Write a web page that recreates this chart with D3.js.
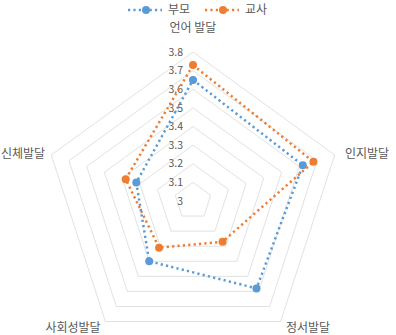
<!DOCTYPE html>
<html>
<head>
<meta charset="utf-8">
<script src="https://cdn.jsdelivr.net/npm/d3@7"></script>
<style>
  body { margin: 0; background: #fff; }
  text { font-family: "Noto Sans CJK KR", "Noto Sans", sans-serif; fill: #595959; }
</style>
</head>
<body>
<svg id="chart" width="396" height="335"></svg>
<script>
// categories clockwise from the top
const categories = ["언어 발달", "인지발달", "정서발달", "사회성발달", "신체발달"];
const parentValues = [3.65, 3.62, 3.58, 3.40, 3.32];   // 부모
const teacherValues = [3.73, 3.68, 3.27, 3.31, 3.38];  // 교사
const tickValues = [3, 3.1, 3.2, 3.3, 3.4, 3.5, 3.6, 3.7, 3.8];
const seriesNames = ["부모", "교사"];
const colors = ["#5B9BD5", "#ED7D31"];

const svg = d3.select("#chart");
const cx = 193, cy = 201, R = 149;

const r = d3.scaleLinear().domain([3, 3.8]).range([0, R]);
const angle = d3.scalePoint().domain(d3.range(categories.length + 1)).range([0, 2 * Math.PI]);
const pt = (i, v) => [cx + r(v) * Math.sin(angle(i)), cy - r(v) * Math.cos(angle(i))];

// grid rings
svg.append("g").selectAll("polygon")
  .data(tickValues.slice(1))
  .join("polygon")
  .attr("points", v => categories.map((c, i) => pt(i, v).join(",")).join(" "))
  .attr("fill", "none")
  .attr("stroke", "#d9d9d9")
  .attr("stroke-width", 0.8);

// tick labels
svg.append("g").selectAll("text")
  .data(tickValues)
  .join("text")
  .attr("x", cx - 10)
  .attr("y", v => cy - r(v))
  .attr("dy", "0.35em")
  .attr("text-anchor", "end")
  .attr("font-size", 10.5)
  .text(v => v);

// category labels
const labelPos = [
  { x: cx, y: 32, anchor: "middle" },
  { x: 345, y: 158, anchor: "start" },
  { x: 308, y: 332, anchor: "middle" },
  { x: 73, y: 332, anchor: "middle" },
  { x: 1, y: 158, anchor: "start" }
];
svg.append("g").selectAll("text")
  .data(categories)
  .join("text")
  .attr("x", (d, i) => labelPos[i].x)
  .attr("y", (d, i) => labelPos[i].y)
  .attr("text-anchor", (d, i) => labelPos[i].anchor)
  .attr("font-size", 12)
  .text(d => d);

// series
const line = d3.line().curve(d3.curveLinearClosed);
[parentValues, teacherValues].forEach((vals, s) => {
  const g = svg.append("g");
  g.append("path")
    .attr("d", line(vals.map((v, i) => pt(i, v))))
    .attr("fill", "none")
    .attr("stroke", colors[s])
    .attr("stroke-width", 2.5)
    .attr("stroke-dasharray", "2.2 3.2");
  g.selectAll("circle")
    .data(vals)
    .join("circle")
    .attr("cx", (v, i) => pt(i, v)[0])
    .attr("cy", (v, i) => pt(i, v)[1])
    .attr("r", 4)
    .attr("fill", colors[s]);
});

// legend
const legendX = [128, 205];
seriesNames.forEach((name, s) => {
  const g = svg.append("g").attr("transform", `translate(${legendX[s]},10)`);
  g.append("line")
    .attr("x1", 0).attr("x2", 34)
    .attr("stroke", colors[s])
    .attr("stroke-width", 2.5)
    .attr("stroke-dasharray", "2.2 3.2");
  g.append("circle").attr("cx", 18).attr("r", 4).attr("fill", colors[s]);
  g.append("text")
    .attr("x", 40).attr("dy", "0.35em")
    .attr("font-size", 12)
    .text(name);
});
</script>
</body>
</html>
